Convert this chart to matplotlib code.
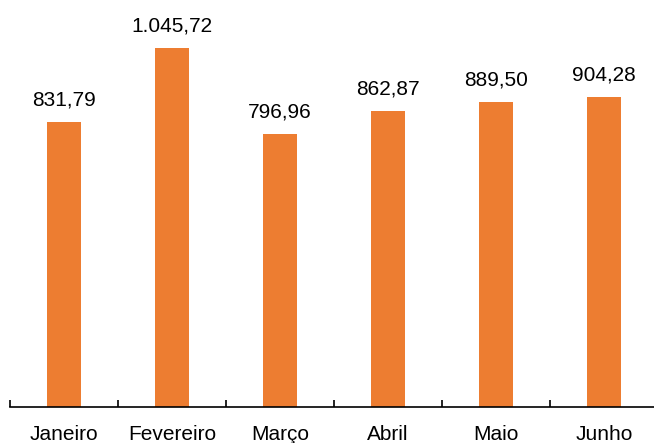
import matplotlib.pyplot as plt

meses = ['Janeiro', 'Fevereiro', 'Março', 'Abril', 'Maio', 'Junho']
valores = [831.79, 1045.72, 796.96, 862.87, 889.50, 904.28]


def fmt_br(v):
    s = '{:,.2f}'.format(v)
    return s.replace(',', 'X').replace('.', ',').replace('X', '.')


plt.rcParams['font.family'] = ['Liberation Sans', 'DejaVu Sans']

fig = plt.figure(figsize=(6.54, 4.43), dpi=100)
ax = fig.add_axes([10 / 654, 36 / 443, 648 / 654, 407 / 443])

x = range(len(meses))
bars = ax.bar(x, valores, width=0.31, color='#ED7D31')
for b, v in zip(bars, valores):
    ax.annotate(fmt_br(v), (b.get_x() + b.get_width() / 2, v),
                xytext=(0, 9), textcoords='offset points',
                ha='center', va='bottom', fontsize=15)

ax.set_xlim(-0.5, len(meses) - 0.5)
ax.set_ylim(0, 1186)
ax.set_xticks(list(x))
ax.set_xticklabels(meses, fontsize=15)
ax.tick_params(axis='x', length=0, pad=13)
ax.set_xticks([i - 0.5 for i in range(len(meses) + 1)], minor=True)
ax.tick_params(axis='x', which='minor', direction='in', length=5, width=1.2)
ax.set_yticks([])
for side in ['top', 'right', 'left']:
    ax.spines[side].set_visible(False)
ax.spines['bottom'].set_linewidth(1.2)

fig.savefig('out.png', dpi=100)
